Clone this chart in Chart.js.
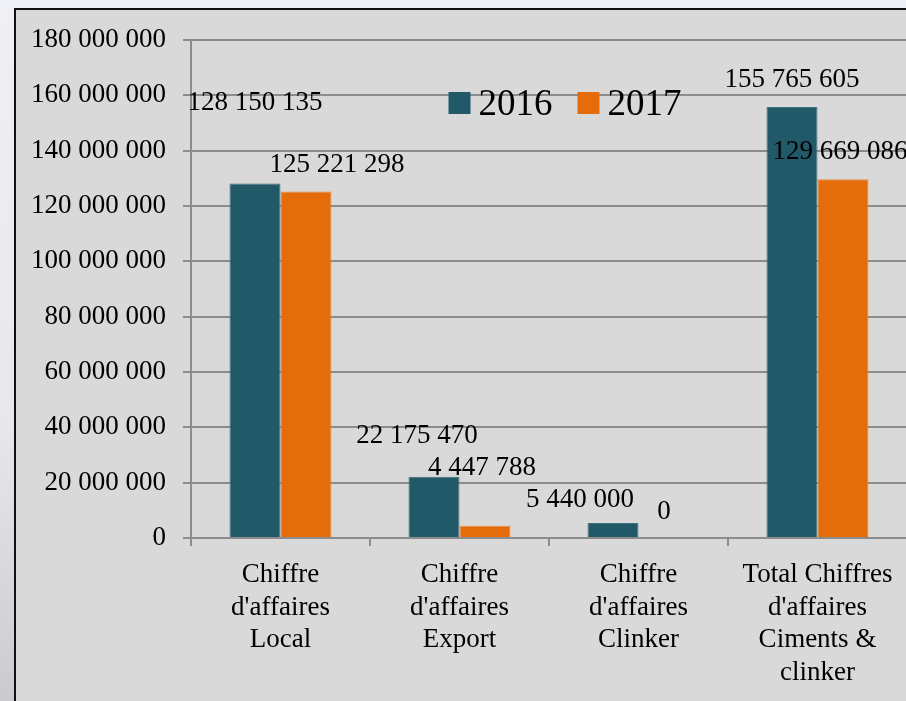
<!DOCTYPE html>
<html>
<head>
<meta charset="utf-8">
<script src="https://cdn.jsdelivr.net/npm/chart.js@4.4.0/dist/chart.umd.min.js"></script>
<style>
  html, body { margin: 0; padding: 0; width: 906px; height: 701px; overflow: hidden; }
  body { background: linear-gradient(180deg, #eef0f5 0%, #e6e8ee 60%, #c9cbd1 100%); position: relative; }
  #box {
    position: absolute; left: 14px; top: 8px; width: 900px; height: 700px;
    border-left: 2px solid #111; border-top: 2px solid #111;
    background: #d9d9d9;
  }
  #chart { display: block; }
</style>
</head>
<body>
<div id="box"><canvas id="chart" width="891" height="691"></canvas></div>
<script>
// données du graphique
const categories = [
  ['Chiffre', "d'affaires", 'Local'],
  ['Chiffre', "d'affaires", 'Export'],
  ['Chiffre', "d'affaires", 'Clinker'],
  ['Total Chiffres', "d'affaires", 'Ciments &', 'clinker']
];
const seriesNames = ['2016', '2017'];
const values2016 = [128150135, 22175470, 5440000, 155765605];
const values2017 = [125221298, 4447788, 0, 129669086];
const yTicks = [0, 20000000, 40000000, 60000000, 80000000, 100000000, 120000000, 140000000, 160000000, 180000000];

// décalage des étiquettes (placées à la main comme dans Excel)
const labelDx = [[0, -17, -33, 0], [31, -3, 0, -3]];
const labelDy = [[-73, -34, -16, -20], [-20, -51, -19, -20]];

const FONT = '"Palatino Linotype", "Book Antiqua", Palatino, "Liberation Serif", serif';
const colors = ['#215968', '#e46c0a'];
const borders = ['#3f7482', '#ee8a3a'];

function fmt(n) {
  return String(n).replace(/\B(?=(\d{3})+(?!\d))/g, ' ');
}

// étiquettes de valeurs
const valueLabels = {
  id: 'valueLabels',
  afterDatasetsDraw(chart) {
    const ctx = chart.ctx;
    ctx.save();
    ctx.font = '27px ' + FONT;
    ctx.fillStyle = '#000';
    ctx.textAlign = 'center';
    ctx.textBaseline = 'alphabetic';
    chart.data.datasets.forEach((ds, i) => {
      chart.getDatasetMeta(i).data.forEach((bar, j) => {
        ctx.fillText(fmt(ds.data[j]), bar.x + labelDx[i][j], bar.y + labelDy[i][j]);
      });
    });
    ctx.restore();
  }
};

// légende dans la zone de tracé
const innerLegend = {
  id: 'innerLegend',
  afterDraw(chart) {
    const ctx = chart.ctx;
    const area = chart.chartArea;
    ctx.save();
    ctx.font = '37px ' + FONT;
    const box = 22, gap = 8, spacing = 25;
    const widths = chart.data.datasets.map(ds => ctx.measureText(ds.label).width);
    let total = 0;
    widths.forEach((w, i) => { total += box + gap + w + (i ? spacing : 0); });
    let x = (area.left + area.right) / 2 + 16 - total / 2;
    const cy = area.top + 63;
    chart.data.datasets.forEach((ds, i) => {
      ctx.fillStyle = ds.backgroundColor;
      ctx.fillRect(x, cy - box / 2, box, box);
      ctx.fillStyle = '#000';
      ctx.textBaseline = 'alphabetic';
      ctx.fillText(ds.label, x + box + gap, cy + 12);
      x += box + gap + widths[i] + spacing;
    });
    ctx.restore();
  }
};

new Chart(document.getElementById('chart'), {
  type: 'bar',
  data: {
    labels: categories,
    datasets: [
      { label: seriesNames[0], data: values2016, backgroundColor: colors[0], borderColor: borders[0], borderWidth: 1 },
      { label: seriesNames[1], data: values2017, backgroundColor: colors[1], borderColor: borders[1], borderWidth: 1 }
    ]
  },
  options: {
    responsive: false,
    devicePixelRatio: 1,
    animation: false,
    categoryPercentage: 0.57,
    barPercentage: 1,
    layout: { padding: { top: 30, left: 0, right: 0, bottom: 0 } },
    plugins: {
      legend: { display: false },
      tooltip: { enabled: false }
    },
    scales: {
      x: {
        grid: { drawOnChartArea: false, color: '#8c8c8c', lineWidth: 2, tickLength: 8 },
        border: { color: '#8c8c8c', width: 2 },
        ticks: { color: '#000', font: { family: FONT, size: 27, lineHeight: 1.22 }, maxRotation: 0, autoSkip: false, padding: 12 },
        afterFit(scale) { scale.height = 163; }
      },
      y: {
        min: 0,
        max: 180000000,
        afterBuildTicks(scale) { scale.ticks = yTicks.map(v => ({ value: v })); },
        grid: { color: '#8c8c8c', lineWidth: 2, tickLength: 8 },
        border: { color: '#8c8c8c', width: 2 },
        ticks: { color: '#000', font: { family: FONT, size: 27 }, padding: 17, callback: v => fmt(v) },
        afterFit(scale) {
          scale.width = 175;
          scale.paddingTop = 16;
          scale.paddingBottom = 16;
        }
      }
    }
  },
  plugins: [valueLabels, innerLegend]
});
</script>
</body>
</html>
